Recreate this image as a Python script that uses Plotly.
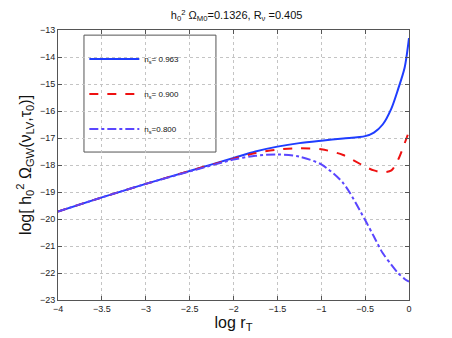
import plotly.graph_objects as go

# log r_T sample points
log_rT = [-4.0, -3.5, -3.0, -2.5, -2.0, -1.75, -1.5, -1.25, -1.0, -0.75, -0.5,
          -0.4, -0.3, -0.2, -0.125, -0.05, 0.0]

# log[h0^2 Omega_GW] for each n_s
ns_0963 = [-19.72, -19.2, -18.7, -18.22, -17.74, -17.5, -17.32, -17.19, -17.1, -17.02, -16.93,
           -16.8, -16.5, -15.9, -15.2, -14.4, -13.3]
ns_0900 = [-19.72, -19.2, -18.7, -18.22, -17.77, -17.56, -17.43, -17.38, -17.42, -17.63, -18.06,
           -18.2, -18.27, -18.2, -17.81, -17.2, -16.75]
ns_0800 = [-19.72, -19.2, -18.7, -18.24, -17.8, -17.66, -17.61, -17.69, -17.98, -18.67, -20.04,
           -20.65, -21.26, -21.7, -22.0, -22.22, -22.32]

names = ["n<sub>s</sub>= 0.963", "n<sub>s</sub>= 0.900", "n<sub>s</sub>=0.800"]

fig = go.Figure()
fig.add_trace(go.Scatter(x=log_rT, y=ns_0963, mode="lines", name=names[0], legendgroup="a",
                         line=dict(color="#1f3dff", width=2, shape="spline", smoothing=0.8)))
fig.add_trace(go.Scatter(x=log_rT, y=ns_0900, mode="lines", name=names[1], legendgroup="b",
                         line=dict(color="#ee1111", width=2, dash="dash", shape="spline", smoothing=0.8)))
fig.add_trace(go.Scatter(x=log_rT, y=ns_0800, mode="lines", name=names[2], legendgroup="c",
                         line=dict(color="#5a46ff", width=2, dash="dashdot", shape="spline", smoothing=0.8)))

axis_common = dict(
    showline=True, linecolor="#555", linewidth=1, mirror="ticks",
    ticks="inside", ticklen=4, tickcolor="#555",
    showgrid=True, gridcolor="#c4c4c4", griddash="dot", gridwidth=1,
    zeroline=False, tickfont=dict(size=9, color="#222"), automargin=False,
)

# page body has an 8px margin, so the figure is drawn 8px smaller
fig.update_layout(
    width=444, height=330,
    paper_bgcolor="white", plot_bgcolor="white",
    font=dict(family="Liberation Sans, Arial, sans-serif", color="#111"),
    margin=dict(l=50, r=43, t=22, b=38),
    title=dict(text="h<sub>0</sub><sup>2</sup> Ω<sub>M0</sub>=0.1326, R<sub>ν</sub> =0.405",
               x=0.515, xanchor="center", y=0.978, yanchor="middle",
               font=dict(size=11)),
    xaxis=dict(range=[-4, 0], dtick=0.5, tick0=-4,
               title=dict(text="log r<sub>T</sub>", font=dict(size=16), standoff=0),
               **axis_common),
    yaxis=dict(range=[-23, -13], dtick=1,
               title=dict(text="log[ h<sub>0</sub><sup>2</sup> Ω<sub>GW</sub>(ν<sub>LV</sub>,τ<sub>0</sub>)]",
                          font=dict(size=16), standoff=4),
               **axis_common),
    legend=dict(x=0.075, y=0.946, xanchor="left", yanchor="top",
                bgcolor="rgba(0,0,0,0)", borderwidth=0, itemwidth=50,
                font=dict(size=8), tracegroupgap=16),
    showlegend=True,
    shapes=[dict(type="rect", xref="paper", yref="paper",
                 x0=0.074, x1=0.45, y0=0.548, y1=0.981,
                 line=dict(color="#555", width=1), fillcolor="white", layer="below")],
)

fig.write_html("out.html")
